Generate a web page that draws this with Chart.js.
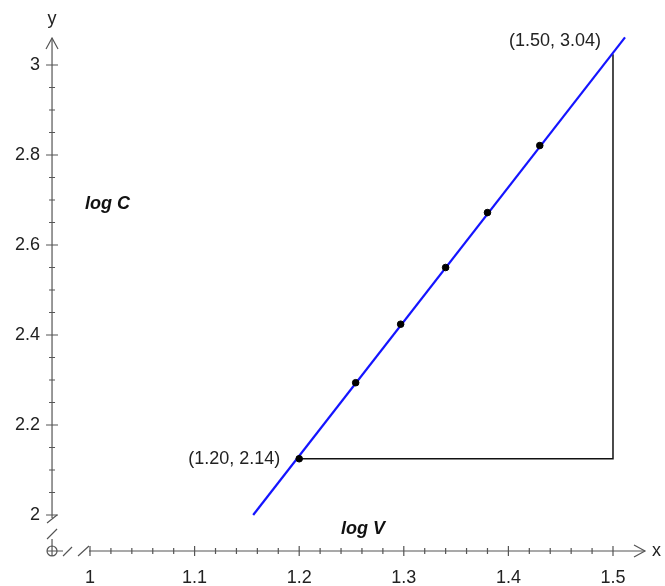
<!DOCTYPE html>
<html lang="en">
<head>
<meta charset="UTF-8">
<title>log C against log V</title>
<script src="https://cdn.jsdelivr.net/npm/chart.js"></script>
<style>
  body { margin: 0; background: #fff; }
  .chart-box { width: 665px; height: 586px; }
</style>
</head>
<body>
<div class="chart-box"><canvas id="logChart"></canvas></div>
<script>
// measured points (log V, log C)
const logV = [1.20, 1.254, 1.297, 1.340, 1.380, 1.430];
const logC = [2.125, 2.294, 2.424, 2.550, 2.672, 2.821];
// ends of the best-fit line
const fitV = [1.156, 1.5115];
const fitC = [2.0, 3.0615];
// slope triangle corners
const triV = [1.20, 1.50, 1.50];
const triC = [2.125, 2.125, 3.024];
const cornerLabels = ['(1.20, 2.14)', '(1.50, 3.04)'];
// axis ticks
const xTicks = [1, 1.1, 1.2, 1.3, 1.4, 1.5];
const yTicks = [2, 2.2, 2.4, 2.6, 2.8, 3];
const xMinorStep = 0.02;
const yMinorStep = 0.05;

// where the (broken) axes sit and end
const X_ORIGIN = 0.9637, Y_ORIGIN = 1.92;
const X_END = 1.5306, Y_END = 3.06;

const AXIS_COLOR = '#555';
const FONT = '"Liberation Sans", Arial, sans-serif';

function pts(xs, ys) {
    return xs.map((x, i) => ({ x: x, y: ys[i] }));
}

const axisPlugin = {
    id: 'brokenAxes',
    beforeDatasetsDraw(chart) {
        const ctx = chart.ctx;
        const xs = chart.scales.x, ys = chart.scales.y;
        const ox = xs.getPixelForValue(X_ORIGIN), oy = ys.getPixelForValue(Y_ORIGIN);
        const x0 = xs.getPixelForValue(xTicks[0]);
        const y0 = ys.getPixelForValue(yTicks[0]);
        const xEnd = xs.getPixelForValue(X_END), yEnd = ys.getPixelForValue(Y_END);

        ctx.save();
        ctx.strokeStyle = AXIS_COLOR;
        ctx.lineWidth = 1.2;
        ctx.beginPath();
        // main axis lines
        ctx.moveTo(x0 - 1, oy); ctx.lineTo(xEnd, oy);
        ctx.moveTo(ox, y0 + 3); ctx.lineTo(ox, yEnd);
        // break marks on x
        ctx.moveTo(ox + 5, oy); ctx.lineTo(ox + 11, oy);
        ctx.moveTo(ox + 11, oy + 5); ctx.lineTo(ox + 20, oy - 4);
        ctx.moveTo(ox + 26, oy + 5); ctx.lineTo(x0 - 1, oy - 5);
        // break marks on y
        ctx.moveTo(ox, oy - 5); ctx.lineTo(ox, oy - 12);
        ctx.moveTo(ox - 5, oy - 12); ctx.lineTo(ox + 5, oy - 22);
        ctx.moveTo(ox + 5, y0); ctx.lineTo(ox - 5, y0 + 8);
        ctx.stroke();

        // origin circle
        ctx.beginPath();
        ctx.arc(ox, oy, 5, 0, Math.PI * 2);
        ctx.moveTo(ox - 5, oy); ctx.lineTo(ox + 5, oy);
        ctx.moveTo(ox, oy - 5); ctx.lineTo(ox, oy + 5);
        ctx.stroke();

        // arrow heads
        ctx.beginPath();
        ctx.moveTo(ox - 6, yEnd + 11); ctx.lineTo(ox, yEnd); ctx.lineTo(ox + 6, yEnd + 11);
        ctx.moveTo(xEnd - 11, oy - 6); ctx.lineTo(xEnd, oy); ctx.lineTo(xEnd - 11, oy + 6);
        ctx.stroke();

        // ticks
        ctx.beginPath();
        for (let v = xTicks[0]; v <= xTicks[xTicks.length - 1] + 1e-9; v += xMinorStep) {
            const px = xs.getPixelForValue(v);
            const major = xTicks.some(t => Math.abs(t - v) < 1e-6);
            const h = major ? 5 : 3;
            ctx.moveTo(px, oy - h); ctx.lineTo(px, oy + h);
        }
        for (let v = yTicks[0]; v <= yTicks[yTicks.length - 1] + 1e-9; v += yMinorStep) {
            const py = ys.getPixelForValue(v);
            const major = yTicks.some(t => Math.abs(t - v) < 1e-6);
            const w = major ? 6 : 3;
            ctx.moveTo(ox - w, py); ctx.lineTo(ox + w, py);
        }
        ctx.stroke();

        // tick labels
        ctx.fillStyle = '#222';
        ctx.font = '18px ' + FONT;
        ctx.textAlign = 'center';
        ctx.textBaseline = 'middle';
        xTicks.forEach(t => ctx.fillText(String(t), xs.getPixelForValue(t), oy + 27));
        ctx.textAlign = 'right';
        yTicks.forEach(t => ctx.fillText(String(t), ox - 12, ys.getPixelForValue(t)));

        // axis names
        ctx.textAlign = 'center';
        ctx.fillText('y', ox, yEnd - 19);
        ctx.textAlign = 'left';
        ctx.fillText('x', xEnd + 7, oy);
        ctx.restore();
    },
    afterDatasetsDraw(chart) {
        const ctx = chart.ctx;
        const xs = chart.scales.x, ys = chart.scales.y;
        ctx.save();
        ctx.fillStyle = '#222';
        ctx.textBaseline = 'middle';
        ctx.font = '18px ' + FONT;
        // corner labels
        ctx.textAlign = 'right';
        ctx.fillText(cornerLabels[0], xs.getPixelForValue(triV[0]) - 19, ys.getPixelForValue(triC[0]));
        ctx.textAlign = 'center';
        ctx.fillText(cornerLabels[1], xs.getPixelForValue(triV[2]) - 58, ys.getPixelForValue(triC[2]) - 13);
        // variable names
        ctx.fillStyle = '#111';
        ctx.font = 'italic bold 18px ' + FONT;
        ctx.textAlign = 'left';
        ctx.fillText('log C', 85, 204);
        ctx.fillText('log V', 341, 529);
        ctx.restore();
    }
};

const ctx = document.getElementById('logChart').getContext('2d');
new Chart(ctx, {
    type: 'scatter',
    data: {
        datasets: [
            {
                label: 'data',
                data: pts(logV, logC),
                backgroundColor: '#000',
                borderColor: '#000',
                pointRadius: 3.3,
                pointHoverRadius: 3.3,
                showLine: false
            },
            {
                label: 'fit',
                data: pts(fitV, fitC),
                borderColor: 'rgb(20, 20, 255)',
                borderWidth: 2.2,
                pointRadius: 0,
                showLine: true
            },
            {
                label: 'triangle',
                data: pts(triV, triC),
                borderColor: '#111',
                borderWidth: 1.5,
                pointRadius: 0,
                showLine: true
            }
        ]
    },
    options: {
        responsive: true,
        maintainAspectRatio: false,
        animation: false,
        layout: { padding: 0, autoPadding: false },
        plugins: {
            legend: { display: false },
            tooltip: { enabled: false }
        },
        scales: {
            x: { type: 'linear', display: false, min: 0.91396, max: 1.54972 },
            y: { type: 'linear', display: false, min: 1.84222, max: 3.14444 }
        }
    },
    plugins: [axisPlugin]
});
</script>
</body>
</html>
